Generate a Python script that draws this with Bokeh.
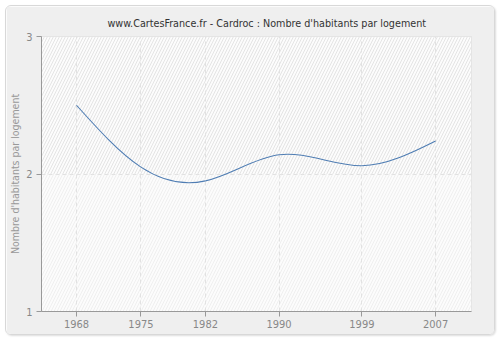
import numpy as np
from bokeh.plotting import figure
from bokeh.models import BoxAnnotation, FixedTicker, Range1d
from bokeh.embed import file_html
from bokeh.resources import INLINE

years = [1968, 1975, 1982, 1990, 1999, 2007]
values = [2.50, 2.05, 1.95, 2.14, 2.06, 2.24]
y_ticks = [1, 2, 3]
title = "www.CartesFrance.fr - Cardroc : Nombre d'habitants par logement"
y_label = "Nombre d'habitants par logement"

FONT = "DejaVu Sans Condensed"

p = figure(width=490, height=330, output_backend="svg", toolbar_location=None,
           x_range=Range1d(1964.2, 2010.9), y_range=Range1d(1, 3),
           min_border_left=35, min_border_right=25, min_border_top=30, min_border_bottom=25)

p.title.text = title
p.title.align = "left"
p.title.offset = 66
p.title.text_font = FONT
p.title.text_font_size = "10.7px"
p.title.text_font_style = "normal"
p.title.text_color = "#333333"
p.title.standoff = 9
p.title.vertical_align = "top"

p.background_fill_color = "#fcfcfc"
p.border_fill_color = "#efefef"
p.outline_line_color = "#dedede"

p.add_layout(BoxAnnotation(bottom=2, top=3, fill_color="#fcfcfc", fill_alpha=1,
                           hatch_pattern="/", hatch_color="#dedede", hatch_scale=6,
                           hatch_weight=0.8, line_color=None, level="image"))
p.add_layout(BoxAnnotation(bottom=1, top=2, fill_color="#fcfcfc", fill_alpha=1,
                           hatch_pattern="/", hatch_color="#ececec", hatch_scale=6,
                           hatch_weight=0.8, line_color=None, level="image"))

# natural cubic spline through the data, drawn as exact Bezier segments
x = np.array(years, dtype=float)
y = np.array(values, dtype=float)
n = len(x)
h = x[1:] - x[:-1]
A = np.zeros((n, n))
b = np.zeros(n)
A[0, 0] = 1
A[-1, -1] = 1
for i in range(1, n - 1):
    A[i, i - 1] = h[i - 1]
    A[i, i] = 2 * (h[i - 1] + h[i])
    A[i, i + 1] = h[i]
    b[i] = 6 * ((y[i + 1] - y[i]) / h[i] - (y[i] - y[i - 1]) / h[i - 1])
M = np.linalg.solve(A, b)
sl = (y[1:] - y[:-1]) / h
d0 = sl - h * (2 * M[:-1] + M[1:]) / 6
d1 = sl + h * (M[:-1] + 2 * M[1:]) / 6
p.bezier(x0=x[:-1], y0=y[:-1], x1=x[1:], y1=y[1:],
         cx0=x[:-1] + h / 3, cy0=y[:-1] + d0 * h / 3,
         cx1=x[1:] - h / 3, cy1=y[1:] - d1 * h / 3,
         line_color="#4f7db3", line_width=1.1)

p.xaxis.ticker = FixedTicker(ticks=years)
p.yaxis.ticker = FixedTicker(ticks=y_ticks)
p.xaxis.minor_tick_line_color = None
p.yaxis.minor_tick_line_color = None
for ax in (p.xaxis, p.yaxis):
    ax.axis_line_color = "#999999"
    ax.major_tick_line_color = "#999999"
    ax.major_tick_out = 5
    ax.major_tick_in = 0
    ax.major_label_text_font = FONT
    ax.major_label_text_font_size = "11px"
    ax.major_label_text_color = "#888888"
p.xaxis.major_label_standoff = 3
p.yaxis.major_label_standoff = 4
p.yaxis.axis_label = y_label
p.yaxis.axis_label_text_font = FONT
p.yaxis.axis_label_text_font_size = "10.5px"
p.yaxis.axis_label_text_font_style = "normal"
p.yaxis.axis_label_text_color = "#999999"
p.yaxis.axis_label_standoff = 2

p.xgrid.ticker = FixedTicker(ticks=years)
p.ygrid.ticker = FixedTicker(ticks=y_ticks)
for g in (p.xgrid, p.ygrid):
    g.grid_line_color = "#e2e2e2"
    g.grid_line_dash = "4 3"
    g.grid_line_width = 1

p.styles = {"margin": "5px", "border": "1px solid #d8d8d8", "border-radius": "6px",
            "overflow": "hidden", "box-shadow": "1px 1px 2px #dddddd"}

open("out.html", "w").write(file_html(p, INLINE))
